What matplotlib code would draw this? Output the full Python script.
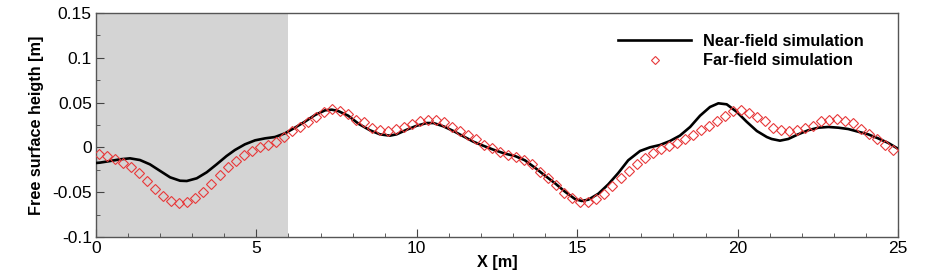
import numpy as np
import matplotlib
matplotlib.use('Agg')
import matplotlib.pyplot as plt
from matplotlib.ticker import MultipleLocator, FuncFormatter

plt.rcParams['font.family'] = ['Liberation Sans', 'DejaVu Sans']
plt.rcParams['axes.unicode_minus'] = False

# near-field simulation (solid line)
near_x = [0.0, 0.125, 0.44, 0.75, 1.06, 1.37, 1.68, 2.0, 2.31, 2.62, 2.83, 3.14,
          3.45, 3.76, 4.07, 4.33, 4.64, 4.96, 5.27, 5.58, 5.89, 6.2, 6.51, 6.83,
          7.14, 7.35, 7.55, 7.86, 8.2, 8.54, 8.85, 9.16, 9.37, 9.69, 10.0, 10.31,
          10.52, 10.83, 11.14, 11.45, 11.76, 12.07, 12.39, 12.75, 13.06, 13.37,
          13.68, 14.0, 14.31, 14.62, 14.93, 15.14, 15.35, 15.66, 15.97, 16.28,
          16.59, 16.96, 17.27, 17.58, 17.89, 18.2, 18.52, 18.83, 19.14, 19.4,
          19.66, 19.97, 20.28, 20.6, 20.91, 21.06, 21.32, 21.58, 21.89, 22.2,
          22.52, 22.83, 23.14, 23.45, 23.76, 24.07, 24.38, 24.7, 25.0]
near_y = [-0.0174, -0.0170, -0.0152, -0.0133, -0.0122, -0.0141, -0.0189, -0.0263,
          -0.0334, -0.0372, -0.0375, -0.0345, -0.0278, -0.0189, -0.0096, -0.0029,
          0.0034, 0.0079, 0.0101, 0.0116, 0.0157, 0.0220, 0.0287, 0.0362, 0.0414,
          0.0421, 0.0406, 0.0354, 0.0260, 0.0191, 0.0146, 0.0131, 0.0146, 0.0198,
          0.0242, 0.0272, 0.0272, 0.0235, 0.0183, 0.0124, 0.0064, 0.0019, -0.0026,
          -0.0070, -0.0096, -0.0144, -0.0226, -0.0316, -0.0401, -0.0494, -0.0576,
          -0.0598, -0.0583, -0.0517, -0.0412, -0.0286, -0.0144, -0.0040, 0.0001,
          0.0027, 0.0071, 0.0131, 0.0228, 0.0354, 0.0451, 0.0492, 0.0481, 0.0398,
          0.0287, 0.0183, 0.0116, 0.0094, 0.0075, 0.0094, 0.0146, 0.0191, 0.0220,
          0.0228, 0.0220, 0.0205, 0.0175, 0.0146, 0.0101, 0.0049, -0.0015]

# far-field simulation (markers), one sample every 0.25 m
far_x = np.arange(100) * 0.25 + 0.1
far_y = [-0.007, -0.010, -0.013, -0.017, -0.022, -0.029, -0.038, -0.046, -0.054, -0.060,
         -0.062, -0.061, -0.057, -0.050, -0.041, -0.031, -0.022,
         -0.015, -0.009, -0.004, 0.000, 0.003, 0.006, 0.012, 0.018, 0.023, 0.028,
         0.034, 0.039, 0.043, 0.041, 0.037, 0.031,
         0.028, 0.022, 0.019, 0.018, 0.020, 0.023, 0.026, 0.030, 0.031, 0.031,
         0.028, 0.023, 0.018, 0.014, 0.009, 0.003, -0.001,
         -0.005, -0.009, -0.011, -0.014, -0.019, -0.027, -0.034, -0.042, -0.051,
         -0.057, -0.061, -0.061, -0.058, -0.052, -0.043, -0.034, -0.026,
         -0.018, -0.012, -0.006, -0.002, 0.002, 0.005, 0.009, 0.014, 0.019, 0.024,
         0.030, 0.035, 0.041, 0.042, 0.038, 0.034, 0.030,
         0.022, 0.019, 0.018, 0.019, 0.022, 0.024, 0.029, 0.031, 0.032, 0.030,
         0.027, 0.021, 0.015, 0.009, 0.003, -0.003]

shade_end = 6

fig = plt.figure(figsize=(9.25, 2.72), dpi=100)
ax = fig.add_axes([0.1038, 0.1287, 0.8670, 0.8235])

ax.axvspan(0, shade_end, color='#d4d4d4', lw=0, zorder=0)
ax.plot(near_x, near_y, color='black', lw=1.9, label='Near-field simulation', zorder=3)
ax.plot(far_x, far_y, ls='none', marker='D', markersize=5.5, mfc='none',
        mec='#e8393a', mew=0.8, label='Far-field simulation', zorder=4)

ax.set_xlim(0, 25)
ax.set_ylim(-0.1, 0.15)
ax.xaxis.set_major_locator(MultipleLocator(5))
ax.xaxis.set_minor_locator(MultipleLocator(1))
ax.yaxis.set_major_locator(MultipleLocator(0.05))
ax.yaxis.set_minor_locator(MultipleLocator(0.025))
ax.yaxis.set_major_formatter(FuncFormatter(lambda v, p: '%g' % round(v, 3)))
ax.tick_params(which='both', direction='in', top=False, right=False,
               labelsize=12.5, color='#444444')
ax.tick_params(which='major', length=6, pad=3)
ax.tick_params(which='minor', length=3)
for s in ax.spines.values():
    s.set_color('#555555')
    s.set_linewidth(1.0)

ax.set_xlabel('X [m]', fontsize=11.7, fontweight='bold', labelpad=-1)
ax.set_ylabel('Free surface heigth [m]', fontsize=11.7, fontweight='bold', labelpad=6)

ax.legend(loc='upper left', bbox_to_anchor=(0.651, 0.907), frameon=False,
          prop={'weight': 'bold', 'size': 11.7}, handlelength=4.5, markerscale=0.7,
          handletextpad=0.75, borderpad=0, borderaxespad=0, labelspacing=0.28)

fig.savefig('out.png', dpi=100)
